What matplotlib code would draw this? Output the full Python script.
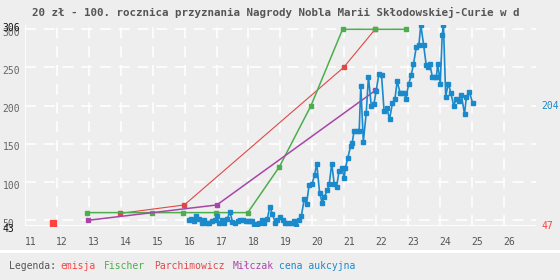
import matplotlib
matplotlib.use('Agg')
import matplotlib.pyplot as plt
import matplotlib.transforms as mtransforms
from matplotlib.patches import Rectangle

plt.rcParams['lines.scale_dashes'] = False

# ---------------- data ----------------
title = "20 zł - 100. rocznica przyznania Nagrody Nobla Marii Skłodowskiej-Curie w d"
x_ticks = list(range(11, 27))
x_tick_labels = [str(v) for v in x_ticks]
y_ticks = [50, 100, 150, 200, 250, 300]
y_min, y_max = 43, 306
x_min, x_max = 11, 27

emisja_x = [11.88]
emisja_y = [47]

fischer_x = [12.95, 14.97, 15.96, 16.98, 17.98, 18.97, 19.96, 20.95, 21.95, 22.95]
fischer_y = [60, 60, 60, 60, 60, 120, 200, 300, 300, 300]

parch_x = [13.98, 15.99, 20.98, 21.97]
parch_y = [59, 70, 250, 300]

milczak_x = [12.98, 17.01, 21.98]
milczak_y = [50, 70, 220]

auction_x = [16.14, 16.20, 16.28, 16.36, 16.44, 16.53, 16.61, 16.70, 16.78, 16.86,
             16.95, 17.01, 17.08, 17.18, 17.25, 17.33, 17.42, 17.50, 17.57, 17.66,
             17.74, 17.82, 17.91, 17.98, 18.06, 18.12, 18.19, 18.26, 18.34, 18.42,
             18.50, 18.59, 18.67, 18.75, 18.84, 18.91, 18.99, 19.08, 19.16, 19.24,
             19.34, 19.42, 19.50, 19.58, 19.66, 19.75, 19.82, 19.90, 19.99, 20.07,
             20.14, 20.23, 20.31, 20.38, 20.47, 20.53, 20.61, 20.69, 20.76, 20.84,
             20.93, 21.00, 21.04, 21.11, 21.20, 21.25, 21.31, 21.41, 21.47, 21.52,
             21.60, 21.69, 21.76, 21.85, 21.93, 22.00, 22.09, 22.17, 22.25, 22.34,
             22.42, 22.51, 22.59, 22.66, 22.75, 22.82, 22.90, 22.93, 23.02, 23.10,
             23.17, 23.26, 23.34, 23.40, 23.49, 23.57, 23.62, 23.68, 23.76, 23.84,
             23.89, 23.93, 24.01, 24.07, 24.11, 24.18, 24.26, 24.34, 24.43, 24.51,
             24.59, 24.67, 24.77, 24.83, 24.92, 25.02]
auction_y = [50, 51, 49, 55, 51, 46, 50, 47, 47, 49,
             50, 55, 47, 50, 47, 51, 61, 48, 47, 49,
             50, 50, 49, 49, 49, 49, 44, 45, 46, 50,
             47, 51, 68, 58, 47, 50, 54, 50, 47, 47,
             47, 49, 43, 50, 56, 78, 71, 96, 97, 109,
             124, 86, 73, 81, 89, 97, 124, 97, 94, 114,
             119, 105, 119, 131, 147, 151, 167, 167, 167, 226,
             153, 190, 238, 199, 202, 219, 242, 240, 193, 197,
             182, 203, 209, 232, 217, 217, 217, 209, 228, 240,
             254, 277, 279, 306, 279, 253, 251, 255, 238, 238,
             238, 255, 229, 292, 306, 212, 229, 217, 200, 209,
             206, 214, 189, 212, 218, 204]

legend_title = "Legenda:"
legend_names = ["emisja", "Fischer", "Parchimowicz", "Miłczak", "cena aukcyjna"]

# ---------------- style ----------------
BG = '#eeeeee'
C_EMISJA = '#ff4040'
C_FISCHER = '#4cae4c'
C_PARCH = '#e04848'
C_MILCZAK = '#a845a8'
C_AUCTION = '#1a8acc'
LEGEND_COLORS = [C_EMISJA, C_FISCHER, C_PARCH, C_MILCZAK, C_AUCTION]
FONT = 'DejaVu Sans Mono'

W, H = 560, 280
fig = plt.figure(figsize=(W / 100, H / 100), dpi=100, facecolor=BG)

def fx(px):
    return px / W

def fy(py):
    return 1 - py / H

left_px, right_px = 25, 535.7
top_px, bottom_px = 24.7, 225.6
ax = fig.add_axes([fx(left_px), fy(bottom_px), fx(right_px - left_px), (bottom_px - top_px) / H])
ax.set_facecolor(BG)
ax.set_xlim(x_min, x_max)
ax.set_ylim(y_min, y_max)
for s in ax.spines.values():
    s.set_visible(False)
ax.set_xticks([])
ax.set_yticks([])

dash = (0, (8.0, 5.5))
for v in y_ticks:
    ax.axhline(v, color='white', lw=1.1, ls=dash, zorder=1)
for v in x_ticks[1:]:
    ax.axvline(v, color='white', lw=1.1, ls=dash, zorder=1)
ax.axhline(y_min, color='white', lw=1.3, zorder=1)
ax.axvline(x_min, color='white', lw=1.3, zorder=1)

# series
ax.plot(parch_x, parch_y, color=C_PARCH, lw=0.8, marker='s', ms=2.6, zorder=3)
ax.plot(fischer_x, fischer_y, color=C_FISCHER, lw=1.1, marker='s', ms=2.6, zorder=3)
ax.plot(milczak_x, milczak_y, color=C_MILCZAK, lw=1.1, marker='s', ms=2.6, zorder=3)
ax.plot(auction_x, auction_y, color=C_AUCTION, lw=1.2, marker='s', ms=2.6, zorder=4)
ax.plot(emisja_x, emisja_y, color=C_EMISJA, ls='none', marker='s', ms=4.2, zorder=5)

# y tick labels (left)
ylab_tr = mtransforms.offset_copy(
    mtransforms.blended_transform_factory(fig.transFigure, ax.transData),
    fig=fig, x=0, y=-3.5, units='dots')
for v in y_ticks:
    fig.text(fx(2.5), v, str(v), transform=ylab_tr, ha='left', va='center',
             fontsize=7, family=FONT, color='#666666')
for v in (y_max, y_min):
    fig.text(fx(2.5), v, str(v), transform=ylab_tr, ha='left', va='center',
             fontsize=7, family=FONT, color='#111111')

# right labels (last values)
fig.text(fx(541.5), auction_y[-1], str(auction_y[-1]), transform=ylab_tr, ha='left',
         va='center', fontsize=7, family=FONT, color=C_AUCTION)
fig.text(fx(541.5), emisja_y[0], str(emisja_y[0]), transform=ylab_tr, ha='left',
         va='center', fontsize=7, family=FONT, color=C_EMISJA)

# x tick labels
xlab_tr = mtransforms.blended_transform_factory(ax.transData, fig.transFigure)
for v, lab in zip(x_ticks, x_tick_labels):
    ax.text(v - 0.02, fy(242), lab, transform=xlab_tr, ha='left', va='center',
            fontsize=7, family=FONT, color='#555555')

# title
fig.text(fx(32), fy(12.5), title, ha='left', va='center', fontsize=7.8,
         family=FONT, fontweight='bold', color='#555555')

# legend band
fig.add_artist(Rectangle((0, fy(253)), 1, 3 / H, transform=fig.transFigure,
                         facecolor='white', edgecolor='none'))
fig.text(fx(9), fy(266), legend_title, ha='left', va='center', fontsize=7,
         family=FONT, color='#555555')
leg_x = [60.3, 104, 153.7, 232.3, 279.3]
for name, col, px in zip(legend_names, LEGEND_COLORS, leg_x):
    fig.text(fx(px), fy(266), name, ha='left', va='center', fontsize=7,
             family=FONT, color=col)

fig.savefig('out.png', dpi=100, facecolor=BG)
